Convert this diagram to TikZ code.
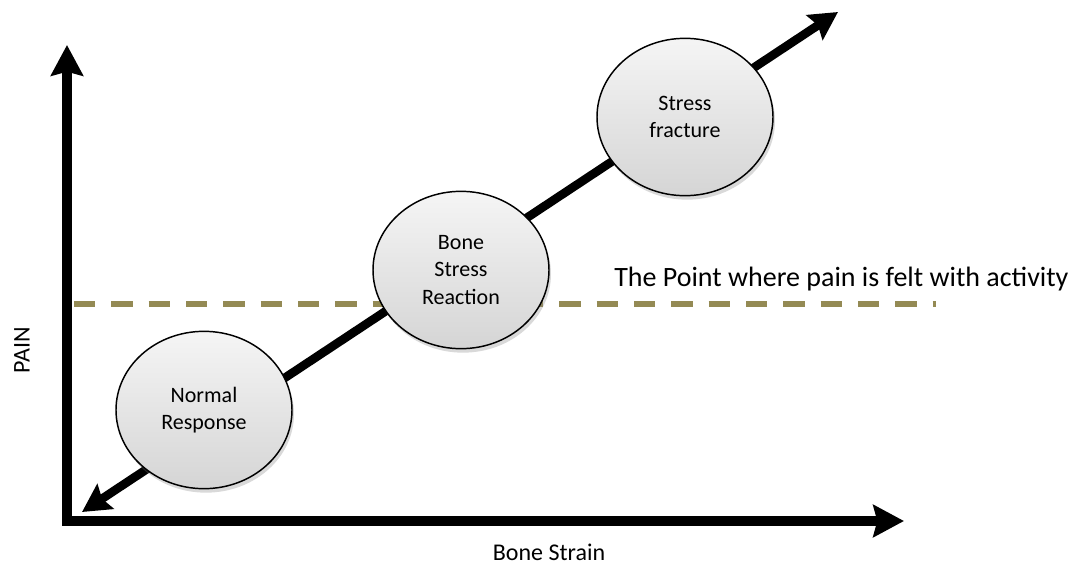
\documentclass[tikz,border=0pt]{standalone}
\usepackage{fontspec}
\setmainfont{Carlito}
\usetikzlibrary{arrows.meta,shapes.geometric,shadows}
\definecolor{tanline}{HTML}{948A54}
\begin{document}
\begin{tikzpicture}[x=0.75pt,y=-0.75pt,
  bubble/.style={ellipse, draw=black, line width=1.1pt, minimum width=132pt, minimum height=118pt,
    top color=gray!8, bottom color=gray!33, align=center, inner sep=0pt,
    font=\fontsize{16.5}{20.5}\selectfont,
    drop shadow={opacity=0.3,shadow xshift=1.5pt,shadow yshift=-3pt}},
  axisarrow/.style={line width=7pt, line join=miter,
    {Stealth[length=23pt,width=24pt,inset=3pt]}-{Stealth[length=23pt,width=24pt,inset=3pt]}},
  diagarrow/.style={line width=6.5pt,
    {Stealth[length=21pt,width=22pt,inset=3pt]}-{Stealth[length=21pt,width=22pt,inset=3pt]}},
  painline/.style={draw=tanline, line width=4pt, dash pattern=on 16pt off 12pt},
  lbl/.style={font=\fontsize{18}{22}\selectfont, inner sep=0pt}
]
\useasboundingbox (0,0) rectangle (1079,564);
% axes
\coordinate (ytip) at (67,45);
\coordinate (corner) at (67,521);
\coordinate (xtip) at (904,521);
\draw[axisarrow] (ytip) -- (corner) -- (xtip);
% pain threshold line
\coordinate (dl) at (74,304);
\coordinate (dr) at (936,304);
\draw[painline] (dl) -- (dr);
% diagonal
\coordinate (dlo) at (82,512);
\coordinate (dhi) at (838,12);
\draw[diagarrow] (dlo) -- (dhi);
% bubbles
\node[bubble] (normal) at (204,410) {Normal\\Response};
\node[bubble] (reaction) at (461,270) {Bone\\Stress\\Reaction};
\node[bubble] (fracture) at (685,117) {Stress\\fracture};
% labels
\node[lbl, anchor=west, font=\fontsize{21}{24}\selectfont] (thr) at (614,279) {The Point where pain is felt with activity};
\node[lbl, rotate=90] (pain) at (22,350) {PAIN};
\node[lbl] (strain) at (549,552) {Bone Strain};
\end{tikzpicture}
\end{document}
